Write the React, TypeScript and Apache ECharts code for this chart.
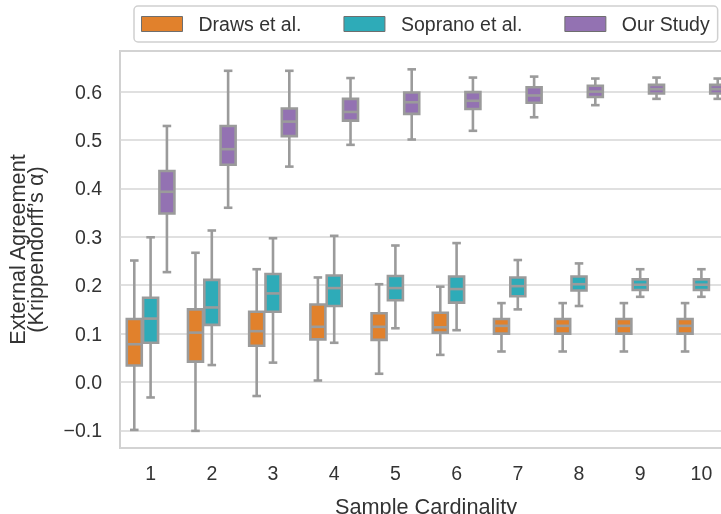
import React, { useEffect, useRef } from 'react';
import * as echarts from 'echarts';

const categories = ['1', '2', '3', '4', '5', '6', '7', '8', '9', '10'];
const seriesNames = ['Draws et al.', 'Soprano et al.', 'Our Study'];

// [lower whisker, Q1, median, Q3, upper whisker] per sample cardinality
const drawsStats = [
  [-0.099, 0.034, 0.078, 0.130, 0.251],
  [-0.101, 0.042, 0.102, 0.150, 0.267],
  [-0.029, 0.075, 0.105, 0.145, 0.233],
  [0.003, 0.088, 0.114, 0.160, 0.216],
  [0.017, 0.087, 0.114, 0.142, 0.202],
  [0.056, 0.102, 0.113, 0.143, 0.197],
  [0.063, 0.100, 0.116, 0.130, 0.163],
  [0.063, 0.100, 0.116, 0.130, 0.163],
  [0.063, 0.100, 0.116, 0.130, 0.163],
  [0.063, 0.100, 0.116, 0.130, 0.163],
];
const sopranoStats = [
  [-0.032, 0.081, 0.131, 0.174, 0.299],
  [0.035, 0.118, 0.154, 0.211, 0.313],
  [0.040, 0.145, 0.183, 0.223, 0.297],
  [0.081, 0.157, 0.194, 0.220, 0.302],
  [0.111, 0.169, 0.194, 0.219, 0.282],
  [0.107, 0.164, 0.192, 0.218, 0.287],
  [0.150, 0.177, 0.198, 0.216, 0.252],
  [0.157, 0.189, 0.202, 0.218, 0.245],
  [0.176, 0.190, 0.201, 0.212, 0.233],
  [0.176, 0.190, 0.201, 0.212, 0.233],
];
const ourStats = [
  [0.227, 0.348, 0.393, 0.436, 0.529],
  [0.360, 0.449, 0.481, 0.529, 0.643],
  [0.445, 0.508, 0.538, 0.565, 0.643],
  [0.490, 0.540, 0.558, 0.585, 0.628],
  [0.501, 0.554, 0.578, 0.598, 0.646],
  [0.519, 0.564, 0.581, 0.599, 0.629],
  [0.547, 0.577, 0.592, 0.609, 0.631],
  [0.572, 0.589, 0.600, 0.612, 0.627],
  [0.585, 0.596, 0.605, 0.614, 0.629],
  [0.585, 0.596, 0.605, 0.614, 0.627],
];

const FONT = '"Liberation Sans", Arial, Helvetica, sans-serif';

export default function App() {
  const ref = useRef<HTMLDivElement>(null);

  useEffect(() => {
    if (!ref.current) return;
    const chart = echarts.init(ref.current, null, { renderer: 'svg' });
    const colors = ['#e1812c', '#2eabb8', '#9372b2'];
    const edge = '#9b9b9b';
    const studies = [drawsStats, sopranoStats, ourStats];

    const makeRender = (hue: number) => (params: any, api: any) => {
      const cat = api.value(0);
      const band = api.size([1, 0])[0];
      const cx = api.coord([cat, 0])[0] + (hue - 1) * band * 0.8 / 3;
      const w = band * 0.245;
      const capW = band * 0.14;
      const ys = [1, 2, 3, 4, 5].map((i) => api.coord([cat, api.value(i)])[1]);
      const [lo, q1, md, q3, hi] = ys;
      const ls = { stroke: edge, lineWidth: 2.6 };
      return {
        type: 'group',
        children: [
          { type: 'line', shape: { x1: cx, y1: q1, x2: cx, y2: lo }, style: ls },
          { type: 'line', shape: { x1: cx, y1: q3, x2: cx, y2: hi }, style: ls },
          { type: 'line', shape: { x1: cx - capW / 2, y1: lo, x2: cx + capW / 2, y2: lo }, style: ls },
          { type: 'line', shape: { x1: cx - capW / 2, y1: hi, x2: cx + capW / 2, y2: hi }, style: ls },
          {
            type: 'rect',
            shape: { x: cx - w / 2, y: q3, width: w, height: q1 - q3 },
            style: { fill: colors[hue], stroke: edge, lineWidth: 2.6 },
          },
          { type: 'line', shape: { x1: cx - w / 2, y1: md, x2: cx + w / 2, y2: md }, style: ls },
        ],
      };
    };

    const series = studies.map((stats, hue) => ({
      name: seriesNames[hue],
      type: 'custom',
      renderItem: makeRender(hue),
      itemStyle: { color: colors[hue] },
      encode: { x: 0, y: [1, 2, 3, 4, 5] },
      data: stats.map((s, i) => [i, ...s]),
      z: 3,
    }));

    const fmt = (v: number) => {
      const s = Math.abs(v).toFixed(1);
      return v < -1e-9 ? '\u2212' + s : s;
    };

    chart.setOption({
      animation: false,
      textStyle: { fontFamily: FONT },
      legend: {
        left: 134,
        top: 6,
        icon: 'rect',
        itemWidth: 41,
        itemHeight: 15,
        itemGap: 42,
        padding: [8, 8, 8, 7],
        borderColor: '#d0d0d0',
        borderWidth: 1.5,
        borderRadius: 4,
        backgroundColor: '#ffffff',
        textStyle: { fontSize: 19.5, color: '#333333', fontFamily: FONT, padding: [0, 0, 0, 11], lineHeight: 20 },
        data: seriesNames.map((n, i) => ({
          name: n,
          icon: 'rect',
          itemStyle: { color: colors[i], borderColor: '#6e6e6e', borderWidth: 1 },
        })),
      },
      grid: {
        left: 120,
        right: 0,
        top: 51,
        bottom: 66,
        containLabel: false,
        outerBoundsMode: 'none',
        show: true,
        borderColor: '#cccccc',
        borderWidth: 1.8,
        backgroundColor: 'transparent',
      },
      xAxis: {
        type: 'category',
        data: categories,
        name: 'Sample Cardinality',
        nameLocation: 'middle',
        nameGap: 47,
        nameTextStyle: { fontSize: 21.7, color: '#333333', fontFamily: FONT },
        axisLine: { show: false },
        axisTick: { show: false },
        axisLabel: { fontSize: 19.5, color: '#333333', margin: 15, fontFamily: FONT },
        splitLine: { show: false },
      },
      yAxis: {
        type: 'value',
        min: -0.1364,
        max: 0.6839,
        splitNumber: 8,
        name: 'External Agreement\n(Krippendorff\u2019s \u03b1)',
        nameLocation: 'middle',
        nameGap: 76,
        nameTextStyle: { fontSize: 21.7, color: '#333333', fontFamily: FONT, lineHeight: 18 },
        axisLine: { show: false },
        axisTick: { show: false },
        axisLabel: {
          fontSize: 19.5,
          color: '#333333',
          margin: 18,
          fontFamily: FONT,
          showMinLabel: false,
          showMaxLabel: false,
          formatter: (v: number) => fmt(v),
        },
        splitLine: { show: true, lineStyle: { color: '#d6d6d6', width: 1.6 } },
      },
      series,
    });

    return () => {
      chart.dispose();
    };
  }, []);

  return (
    <div style={{ position: 'fixed', left: 0, top: 0, width: 721, height: 514, overflow: 'hidden' }}>
      <div ref={ref} style={{ position: 'absolute', left: 0, top: 0, width: 732, height: 514 }} />
    </div>
  );
}
